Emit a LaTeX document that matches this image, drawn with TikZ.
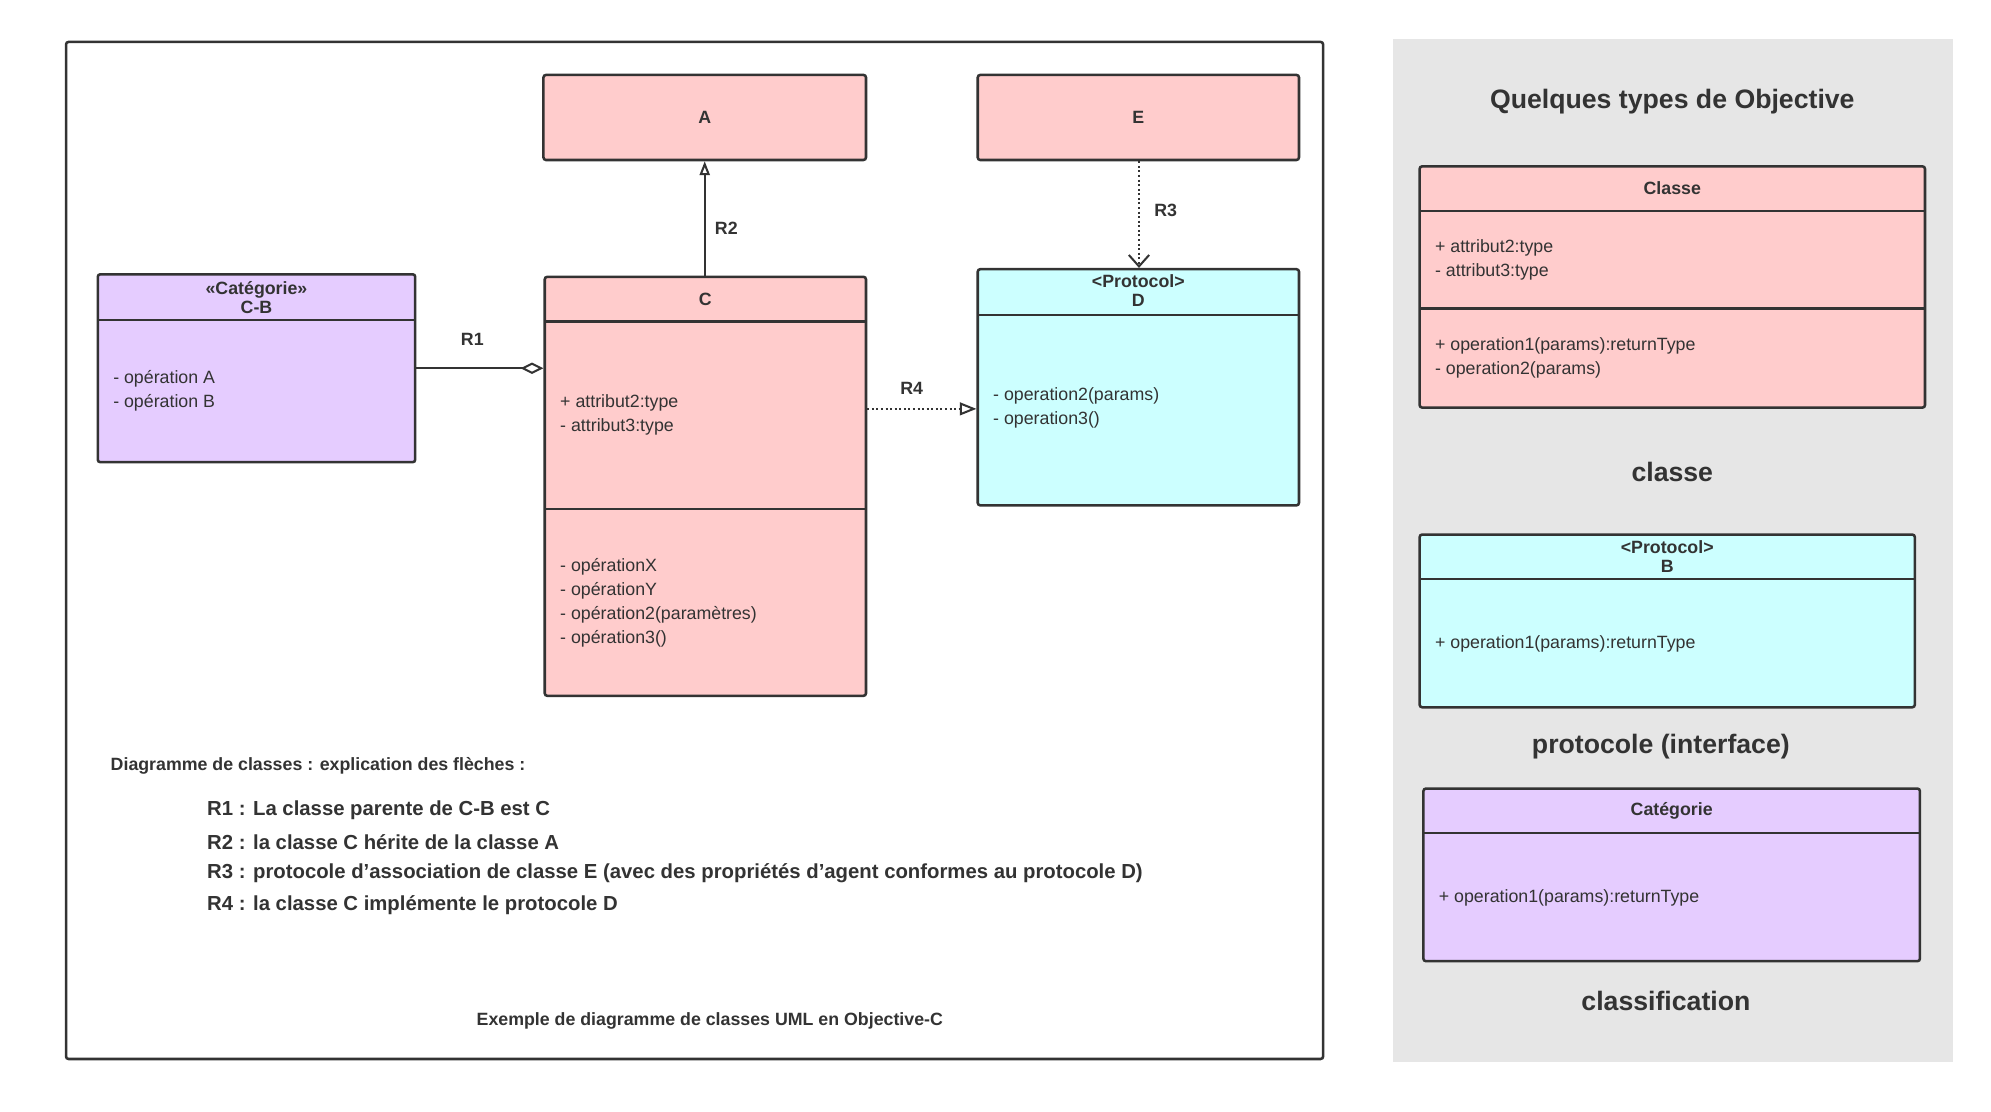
\documentclass[tikz,border=0pt]{standalone}
\usepackage{fontspec}
\setmainfont{Liberation Sans}
\usetikzlibrary{arrows.meta}
\definecolor{pk}{HTML}{FFCCCC}
\definecolor{cy}{HTML}{CCFFFF}
\definecolor{pu}{HTML}{E5CCFF}
\definecolor{gr}{HTML}{E6E6E6}
\definecolor{ln}{HTML}{333333}
\begin{document}
\begin{tikzpicture}[x=1pt,y=-1pt,
  box/.style={draw=ln,line width=2pt,rounded corners=2pt},
  sep/.style={draw=ln,line width=2pt},
  hd/.style={font=\fontsize{14}{15}\selectfont\bfseries,text=ln,align=center},
  tx/.style={font=\fontsize{14}{19}\selectfont,text=ln,anchor=west,align=left,inner sep=0},
  lab/.style={font=\fontsize{14}{16}\selectfont\bfseries,text=ln},
  big/.style={font=\fontsize{21}{24}\selectfont\bfseries,text=ln},
  leg/.style={font=\fontsize{16}{18}\selectfont\bfseries,text=ln,anchor=west,inner sep=0},
  conn/.style={draw=ln,line width=1.6pt}]
\useasboundingbox[fill=white] (0,0) rectangle (1568,875);
\draw[ln,line width=2pt,rounded corners=2pt] (52,33) rectangle (1042,834);
\fill[gr] (1097,31) rectangle (1538,836);
% A, E
\draw[box,fill=pk] (428,59) rectangle (682,126);
\node[hd] (A) at (555,92.5) {A};
\draw[box,fill=pk] (770,59) rectangle (1023,126);
\node[hd] (E) at (896.5,92.5) {E};
\coordinate (Ab) at (555,127); \coordinate (Eb) at (897,127);
% C
\draw[box,fill=pk] (429,218) rectangle (682,548);
\draw[sep] (429,253) -- (682,253); \draw[sep] (429,401) -- (682,401);
\node[hd] (C) at (555.5,235.5) {C};
\node[tx] (Ca) at (441,326.5) {+ attribut2:type\\- attribut3:type};
\node[tx] (Co) at (441,474.5) {- opérationX\\- opérationY\\- opération2(paramètres)\\- opération3()};
\coordinate (Ct) at (555,217); \coordinate (Cl) at (428,290); \coordinate (Cr) at (683,322);
% C-B
\draw[box,fill=pu] (77,216) rectangle (327,364);
\draw[sep] (77,252) -- (327,252);
\node[hd] (CB) at (202,234) {<<Catégorie>>\\C-B};
\node[tx] (CBo) at (89,308) {- opération A\\- opération B};
\coordinate (CBr) at (328,290);
% D
\draw[box,fill=cy] (770,212) rectangle (1023,398);
\draw[sep] (770,248) -- (1023,248);
\node[hd] (D) at (896.5,229) {<Protocol>\\D};
\node[tx] (Do) at (782,321.5) {- operation2(params)\\- operation3()};
\coordinate (Dt) at (897,211); \coordinate (Dl) at (769,322);
% connectors
\draw[conn,-{Triangle[open,length=11pt,width=8pt]}] (Ct) -- (Ab);
\node[lab] (R2) at (572,180) {R2};
\draw[conn,dotted,-{Straight Barb[length=9pt,width=16pt]}] (Eb) -- (Dt);
\node[lab] (R3) at (918,166) {R3};
\draw[conn,-{Diamond[open,length=18pt,width=9pt]}] (CBr) -- (Cl);
\node[lab] (R1) at (372,267) {R1};
\draw[conn,dotted,-{Triangle[open,length=13pt,width=10pt]}] (Cr) -- (Dl);
\node[lab] (R4) at (718,306) {R4};
% legend
\node[leg,font=\fontsize{14}{16}\selectfont\bfseries] (L0) at (87,603) {Diagramme de classes : explication des flèches :};
\node[leg] (L1) at (163,638) {R1 : La classe parente de C-B est C};
\node[leg] (L2) at (163,663) {R2 : la classe C hérite de la classe A};
\node[leg] (L3) at (163,688) {R3 : protocole d'association de classe E (avec des propriétés d'agent conformes au protocole D)};
\node[leg] (L4) at (163,713) {R4 : la classe C implémente le protocole D};
\node[lab] (cap) at (559,804) {Exemple de diagramme de classes UML en Objective-C};
% right panel
\node[big] (T) at (1317,80) {Quelques types de Objective};
\draw[box,fill=pk] (1118,131) rectangle (1516,321);
\draw[sep] (1118,166) -- (1516,166); \draw[sep] (1118,243) -- (1516,243);
\node[hd] (K1) at (1317,148.5) {Classe};
\node[tx] (K1a) at (1130,204.5) {+ attribut2:type\\- attribut3:type};
\node[tx] (K1o) at (1130,282) {+ operation1(params):returnType\\- operation2(params)};
\node[big] (t1) at (1317,372) {classe};
\draw[box,fill=cy] (1118,421) rectangle (1508,557);
\draw[sep] (1118,456) -- (1508,456);
\node[hd] (K2) at (1313,438) {<Protocol>\\B};
\node[tx] (K2o) at (1130,507) {+ operation1(params):returnType};
\node[big] (t2) at (1308,588) {protocole (interface)};
\draw[box,fill=pu] (1121,621) rectangle (1512,757);
\draw[sep] (1121,656) -- (1512,656);
\node[hd] (K3) at (1316.5,638.5) {Catégorie};
\node[tx] (K3o) at (1133,707) {+ operation1(params):returnType};
\node[big] (t3) at (1312,788) {classification};
\end{tikzpicture}
\end{document}
